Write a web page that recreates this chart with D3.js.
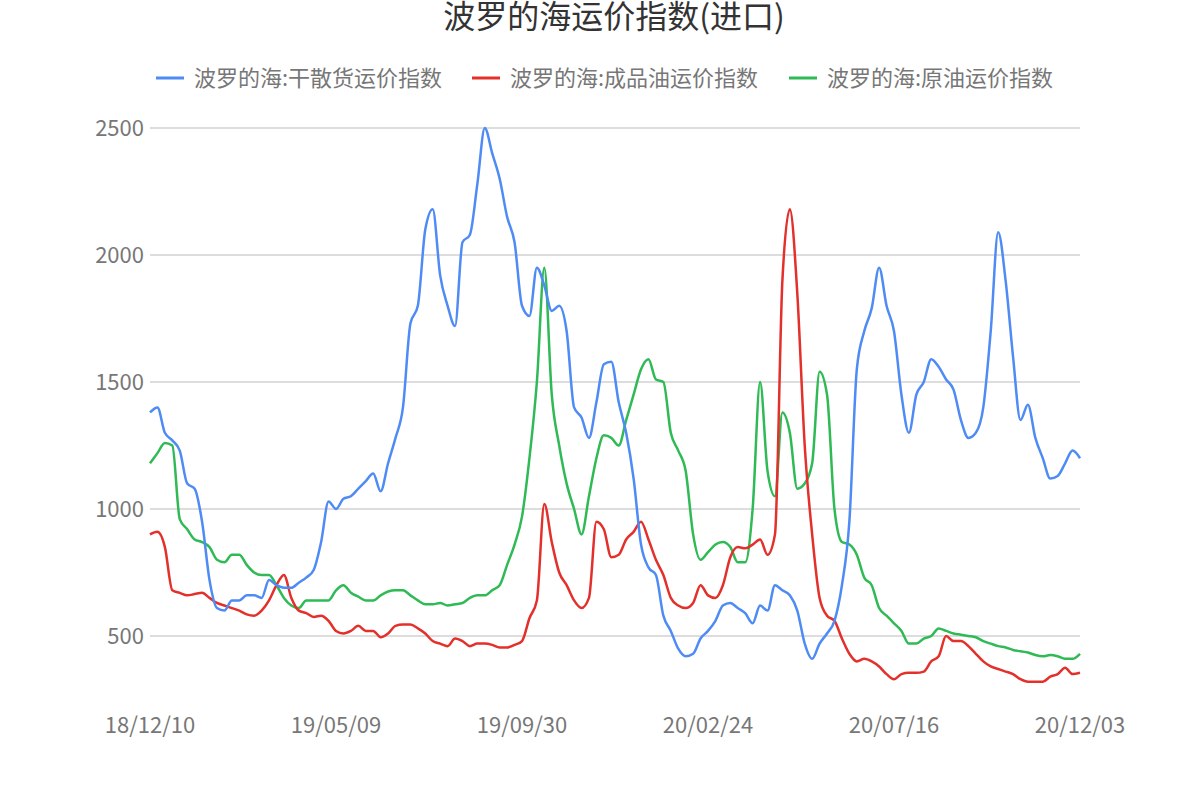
<!DOCTYPE html>
<html><head><meta charset="utf-8">
<script src="https://cdn.jsdelivr.net/npm/d3@7"></script>
<style>body{margin:0;background:#fff;font-family:"Noto Sans CJK SC","Noto Sans",sans-serif}</style>
</head><body><svg id="c" width="1200" height="800"></svg>
<script>
const tickLabels=["18/12/10","19/05/09","19/09/30","20/02/24","20/07/16","20/12/03"];
const seriesNames=["波罗的海:干散货运价指数","波罗的海:成品油运价指数","波罗的海:原油运价指数"];
const colors=["#4e8bf5","#e3302a","#2fba55"];
const dryBulk=[1380,1400,1300,1270,1230,1100,1080,950,720,610,600,640,640,660,660,650,720,700,690,690,710,730,760,870,1030,1000,1040,1050,1080,1110,1140,1070,1180,1280,1400,1730,1800,2100,2180,1920,1800,1720,2050,2080,2280,2500,2400,2300,2150,2050,1800,1760,1950,1880,1780,1800,1700,1400,1360,1280,1420,1570,1580,1420,1300,1120,860,770,740,580,520,450,420,430,490,520,560,620,630,610,590,550,620,600,700,680,660,600,470,410,470,510,560,700,950,1550,1700,1790,1950,1800,1700,1450,1300,1450,1500,1590,1560,1510,1470,1350,1280,1300,1400,1700,2090,1900,1600,1350,1410,1280,1200,1120,1130,1180,1230,1200];
const productOil=[900,910,850,680,670,660,665,670,650,630,620,610,600,585,580,600,640,700,740,650,600,590,575,580,560,520,510,520,540,520,520,495,510,540,545,545,530,510,480,470,460,490,480,460,470,470,465,455,455,465,480,570,640,1020,870,750,700,640,610,650,950,920,810,820,880,910,950,880,800,740,650,620,610,630,700,660,650,700,810,850,845,860,880,820,900,1900,2180,1850,1250,900,650,580,560,490,430,400,410,400,380,350,330,350,355,355,360,400,420,500,480,480,460,430,400,380,370,360,350,330,320,320,320,340,350,375,350,355];
const crudeOil=[1180,1220,1260,1250,960,920,880,870,850,800,
790,820,820,780,750,740,740,700,650,620,
610,640,640,640,640,680,700,670,655,640,
640,660,675,680,680,660,640,625,625,630,
620,625,630,650,660,660,680,700,780,860,
970,1200,1500,1950,1450,1250,1100,1000,900,1050,
1200,1290,1280,1250,1350,1450,1550,1590,1510,1500,
1300,1230,1150,900,800,830,860,870,850,790,
790,1000,1500,1150,1050,1380,1300,1080,1100,1180,
1540,1450,1000,870,860,820,730,700,610,580,
550,520,470,470,490,500,530,520,510,505,
500,495,480,470,460,455,445,440,435,425,
420,425,420,410,410,430,440,450,460,445].slice(0,126);
const series=[dryBulk,productOil,crudeOil];
const N=dryBulk.length;
const svg=d3.select("#c");
const x=d3.scaleLinear().domain([0,N-1]).range([150,1080]);
const y=d3.scaleLinear().domain([250,2500]).range([699.5,128]);
const grid=[500,1000,1500,2000,2500];
svg.selectAll(".g").data(grid).join("line").attr("x1",150).attr("x2",1080)
 .attr("y1",d=>y(d)).attr("y2",d=>y(d)).attr("stroke","#bbb").attr("stroke-width",1);
svg.selectAll(".yl").data(grid).join("text").attr("x",144).attr("y",d=>y(d)).attr("dy","0.35em")
 .attr("text-anchor","end").attr("font-size",22).attr("fill","#777").text(d=>d);
const tickIdx=tickLabels.map((t,i)=>Math.round(i*(N-1)/(tickLabels.length-1)));
svg.selectAll(".xl").data(tickLabels).join("text").attr("x",(d,i)=>x(tickIdx[i])).attr("y",733)
 .attr("text-anchor","middle").attr("font-size",22).attr("fill","#777").text(d=>d);
const line=d3.line().x((d,i)=>x(i)).y(d=>y(d)).curve(d3.curveMonotoneX);
[2,1,0].forEach(k=>svg.append("path").attr("d",line(series[k])).attr("fill","none")
 .attr("stroke",colors[k]).attr("stroke-width",2.5));
svg.append("text").attr("x",614).attr("y",28).attr("text-anchor","middle").attr("font-size",32)
 .attr("fill","#333").text("波罗的海运价指数(进口)");
const lx=[156,472,789];
seriesNames.forEach((n,k)=>{
 svg.append("line").attr("x1",lx[k]).attr("x2",lx[k]+28).attr("y1",78).attr("y2",78).attr("stroke",colors[k]).attr("stroke-width",3);
 svg.append("text").attr("x",lx[k]+38).attr("y",78).attr("dy","0.35em").attr("font-size",22).attr("fill","#777").text(n);
});
</script></body></html>
